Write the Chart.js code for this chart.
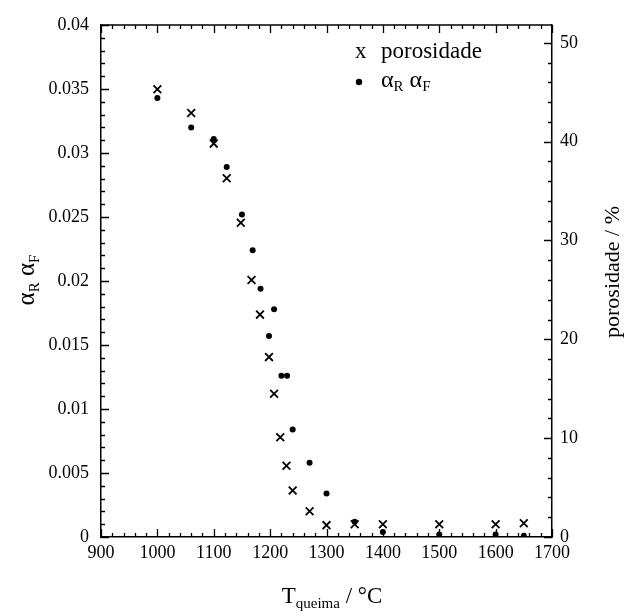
<!DOCTYPE html>
<html>
<head>
<meta charset="utf-8">
<script src="https://cdn.jsdelivr.net/npm/chart.js@4/dist/chart.umd.min.js"></script>
<style>
  html, body { margin: 0; padding: 0; background: #fff; }
  #wrap { width: 637px; height: 616px; }
</style>
</head>
<body>
<div id="wrap"><canvas id="chart"></canvas></div>
<script>
// porosity (right axis, %) vs firing temperature
const porTemps = [1000, 1060, 1100, 1123, 1148, 1167, 1182, 1198, 1207, 1218, 1229, 1240, 1270, 1300, 1350, 1400, 1500, 1600, 1650];
const porValues = [45.3, 42.9, 39.8, 36.3, 31.8, 26.0, 22.5, 18.2, 14.5, 10.1, 7.2, 4.7, 2.6, 1.2, 1.3, 1.3, 1.3, 1.3, 1.4];

// alpha_R alpha_F (left axis) vs firing temperature
const alphaTemps = [1000, 1060, 1100, 1123, 1150, 1169, 1183, 1198, 1207, 1220, 1230, 1240, 1270, 1300, 1350, 1400, 1500, 1600, 1650];
const alphaValues = [0.0343, 0.0320, 0.0311, 0.0289, 0.0252, 0.0224, 0.0194, 0.0157, 0.0178, 0.0126, 0.0126, 0.0084, 0.0058, 0.0034, 0.0012, 0.0004, 0.0002, 0.0002, 0.0001];

// axis ranges and tick steps
const xRange = [900, 1700];
const xTicks = [100, 20];
const yRange = [0, 0.04];
const yTicks = [0.005, 0.001];
const y2Range = [0, 51.8];
const y2Ticks = [10, 2];

const SERIF = '"Liberation Serif", "Times New Roman", serif';

function pts(xs, ys) {
    return xs.map((x, i) => ({ x: x, y: ys[i] }));
}

// inward tick marks on all four sides, plus the top frame line
const frameTicks = {
    id: 'frameTicks',
    afterDraw(chart) {
        const ctx = chart.ctx;
        const a = chart.chartArea;
        const sx = chart.scales.x, sy = chart.scales.y, sy2 = chart.scales.y2;
        ctx.save();
        ctx.strokeStyle = '#000';
        ctx.lineWidth = 1.5;
        ctx.beginPath();
        ctx.moveTo(a.left, a.top);
        ctx.lineTo(a.right, a.top);
        ctx.stroke();

        ctx.lineWidth = 1.3;
        ctx.beginPath();
        const nx = Math.round((xRange[1] - xRange[0]) / xTicks[1]);
        const xEvery = Math.round(xTicks[0] / xTicks[1]);
        for (let i = 0; i <= nx; i++) {
            const v = xRange[0] + i * xTicks[1];
            const len = (i % xEvery === 0) ? 8 : 4;
            const px = Math.round(sx.getPixelForValue(v)) + 0.5;
            ctx.moveTo(px, a.bottom); ctx.lineTo(px, a.bottom - len);
            ctx.moveTo(px, a.top); ctx.lineTo(px, a.top + len);
        }
        const ny = Math.round((yRange[1] - yRange[0]) / yTicks[1]);
        const yEvery = Math.round(yTicks[0] / yTicks[1]);
        for (let i = 0; i <= ny; i++) {
            const v = yRange[0] + i * yTicks[1];
            const len = (i % yEvery === 0) ? 8 : 4;
            const py = Math.round(sy.getPixelForValue(v)) + 0.5;
            ctx.moveTo(a.left, py); ctx.lineTo(a.left + len, py);
        }
        const ny2 = Math.floor((y2Range[1] - y2Range[0]) / y2Ticks[1]);
        const y2Every = Math.round(y2Ticks[0] / y2Ticks[1]);
        for (let i = 0; i <= ny2; i++) {
            const v = y2Range[0] + i * y2Ticks[1];
            const len = (i % y2Every === 0) ? 8 : 4;
            const py = Math.round(sy2.getPixelForValue(v)) + 0.5;
            ctx.moveTo(a.right, py); ctx.lineTo(a.right - len, py);
        }
        ctx.stroke();
        ctx.restore();
    }
};

// draws a run of [text, size, baselineShift] pieces starting at x
function drawRuns(ctx, runs, x, y) {
    for (const [t, size, dy] of runs) {
        ctx.font = size + 'px ' + SERIF;
        ctx.fillText(t, x, y + dy);
        x += ctx.measureText(t).width;
    }
    return x;
}
function runsWidth(ctx, runs) {
    let w = 0;
    for (const [t, size] of runs) {
        ctx.font = size + 'px ' + SERIF;
        w += ctx.measureText(t).width;
    }
    return w;
}

// axis titles with subscripts and the small legend box
const titles = {
    id: 'titles',
    afterDraw(chart) {
        const ctx = chart.ctx;
        ctx.save();
        ctx.fillStyle = '#000';
        ctx.textBaseline = 'alphabetic';
        ctx.textAlign = 'left';

        // bottom: T_queima / °C
        const xt = [['T', 23, 0], ['queima', 15, 5], [' / °C', 23, 0]];
        drawRuns(ctx, xt, 332 - runsWidth(ctx, xt) / 2, 603);

        // left: alpha_R alpha_F
        const yt = [['α', 25, 0], ['R', 15, 5], [' α', 25, 0], ['F', 15, 5]];
        ctx.save();
        ctx.translate(34, 280);
        ctx.rotate(-Math.PI / 2);
        drawRuns(ctx, yt, -runsWidth(ctx, yt) / 2, 0);
        ctx.restore();

        // right: porosidade / %
        ctx.save();
        ctx.translate(619, 272);
        ctx.rotate(-Math.PI / 2);
        ctx.font = '22px ' + SERIF;
        ctx.textAlign = 'center';
        ctx.fillText('porosidade / %', 0, 0);
        ctx.restore();

        // legend
        ctx.font = '23px ' + SERIF;
        ctx.fillText('x', 355, 58);
        ctx.fillText('porosidade', 381, 58);
        ctx.beginPath();
        ctx.arc(359, 82, 3.2, 0, Math.PI * 2);
        ctx.fill();
        drawRuns(ctx, [['α', 24, 0], ['R', 15, 4], [' α', 24, 0], ['F', 15, 4]], 381, 87);
        ctx.restore();
    }
};

const tickFont = { family: SERIF, size: 18 };

new Chart(document.getElementById('chart'), {
    type: 'scatter',
    data: {
        datasets: [
            {
                label: 'porosidade',
                data: pts(porTemps, porValues),
                yAxisID: 'y2',
                pointStyle: 'crossRot',
                pointRadius: 5.5,
                pointBorderWidth: 1.8,
                borderColor: '#000',
                backgroundColor: '#000',
            },
            {
                label: 'αR αF',
                data: pts(alphaTemps, alphaValues),
                yAxisID: 'y',
                pointStyle: 'circle',
                pointRadius: 3,
                pointBorderWidth: 0,
                borderColor: '#000',
                backgroundColor: '#000',
            },
        ],
    },
    options: {
        responsive: true,
        maintainAspectRatio: false,
        animation: false,
        layout: { padding: { top: 25, left: 0, right: 0, bottom: 0 } },
        plugins: { legend: { display: false }, tooltip: { enabled: false } },
        scales: {
            x: {
                type: 'linear',
                min: xRange[0],
                max: xRange[1],
                grid: { display: false, drawTicks: false },
                border: { display: true, color: '#000', width: 1.5 },
                ticks: {
                    stepSize: xTicks[0],
                    color: '#000',
                    font: tickFont,
                    padding: 5,
                    maxRotation: 0,
                    autoSkip: false,
                    callback: (v) => String(v),
                },
                afterFit: (s) => { s.height = 79; },
            },
            y: {
                position: 'left',
                min: yRange[0],
                max: yRange[1],
                grid: { display: false, drawTicks: false },
                border: { display: true, color: '#000', width: 1.5 },
                ticks: {
                    stepSize: yTicks[0],
                    color: '#000',
                    font: tickFont,
                    padding: 12,
                    autoSkip: false,
                    callback: (v) => String(+Number(v).toFixed(3)),
                },
                afterFit: (s) => { s.width = 101; },
            },
            y2: {
                position: 'right',
                min: y2Range[0],
                max: y2Range[1],
                grid: { display: false, drawTicks: false },
                border: { display: true, color: '#000', width: 1.5 },
                ticks: {
                    stepSize: y2Ticks[0],
                    includeBounds: false,
                    autoSkip: false,
                    color: '#000',
                    font: tickFont,
                    padding: 8,
                    callback: (v) => String(v),
                },
                afterFit: (s) => { s.width = 85; },
            },
        },
    },
    plugins: [frameTicks, titles],
});
</script>
</body>
</html>
